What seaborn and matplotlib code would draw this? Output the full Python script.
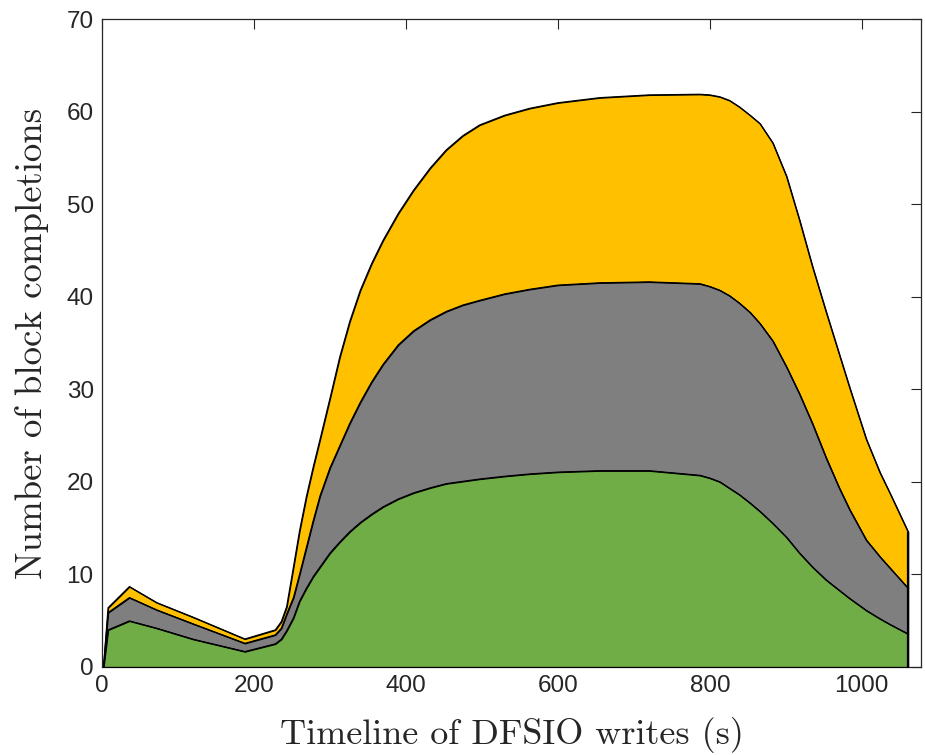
import numpy as np
import pandas as pd
import matplotlib
matplotlib.use("Agg")
import matplotlib.pyplot as plt
import seaborn as sns

# ---- data ----
time_s = [2, 8, 36, 72, 120, 188, 228, 236, 243, 252, 260, 269, 278, 287, 300,
          313, 326, 340, 355, 370, 390, 410, 432, 453, 475, 497, 530, 563, 600,
          655, 720, 787, 800, 813, 826, 839, 853, 866, 883, 901, 918, 935, 953,
          970, 984, 1006, 1024, 1037, 1061]

green_top = [0, 4.0, 4.97, 4.18, 2.99, 1.66, 2.49, 2.99, 3.9, 5.3, 7.1, 8.5,
             9.76, 10.8, 12.3, 13.5, 14.6, 15.6, 16.5, 17.3, 18.15, 18.8, 19.35,
             19.8, 20.05, 20.3, 20.6, 20.85, 21.05, 21.2, 21.2, 20.7, 20.4,
             20.0, 19.3, 18.6, 17.7, 16.8, 15.5, 14.0, 12.3, 10.8, 9.4, 8.3,
             7.4, 6.1, 5.2, 4.6, 3.56]

gray_top = [0, 5.87, 7.49, 6.16, 4.65, 2.55, 3.46, 4.18, 5.7, 7.5, 10.0, 12.9,
            15.8, 18.5, 21.5, 23.9, 26.3, 28.6, 30.8, 32.7, 34.8, 36.3, 37.5,
            38.4, 39.1, 39.6, 40.3, 40.8, 41.25, 41.5, 41.6, 41.4, 41.1, 40.7,
            40.1, 39.3, 38.3, 37.1, 35.2, 32.4, 29.5, 26.3, 22.6, 19.4, 17.0,
            13.7, 11.9, 10.7, 8.5]

yellow_top = [0, 6.4, 8.68, 6.95, 5.37, 3.02, 4.0, 4.9, 6.5, 10.8, 14.7, 18.4,
              21.6, 24.6, 29.0, 33.5, 37.3, 40.7, 43.6, 46.1, 49.0, 51.5, 53.9,
              55.85, 57.4, 58.55, 59.6, 60.35, 60.95, 61.5, 61.8, 61.87, 61.8,
              61.6, 61.2, 60.5, 59.6, 58.7, 56.6, 53.0, 48.3, 43.3, 38.4, 33.9,
              30.2, 24.6, 21.0, 18.8, 14.6]

x_ticks = [0, 200, 400, 600, 800, 1000]
y_ticks = [0, 10, 20, 30, 40, 50, 60, 70]
x_label = "Timeline of DFSIO writes (s)"
y_label = "Number of block completions"

colors = {"green": "#70AD47", "gray": "#7F7F7F", "yellow": "#FFC000"}

# ---- plot ----
sns.set_theme(style="white")
plt.rcParams["font.family"] = ["Liberation Sans", "DejaVu Sans"]

df = pd.DataFrame({"t": time_s, "green": green_top, "gray": gray_top,
                   "yellow": yellow_top})

fig = plt.figure(figsize=(9.25, 7.55), dpi=100)
ax = fig.add_axes([0.1103, 0.1166, 0.9957 - 0.1103, 0.9748 - 0.1166])

zero = np.zeros(len(df))
ax.fill_between(df["t"], df["gray"], df["yellow"], facecolor=colors["yellow"],
                edgecolor="black", linewidth=0.9, zorder=2)
ax.fill_between(df["t"], df["green"], df["gray"], facecolor=colors["gray"],
                edgecolor="black", linewidth=0.9, zorder=3)
ax.fill_between(df["t"], zero, df["green"], facecolor=colors["green"],
                edgecolor="black", linewidth=0.9, zorder=4)
for col in ["green", "gray", "yellow"]:
    sns.lineplot(data=df, x="t", y=col, color="black", linewidth=0.9,
                 ax=ax, zorder=5, legend=False)
ax.vlines(df["t"].iloc[-1], 0, df["yellow"].iloc[-1], color="black",
          linewidth=1.6, zorder=6)

ax.set_xlim(0, 1078)
ax.set_ylim(0, 70)
ax.set_xticks(x_ticks)
ax.set_yticks(y_ticks)
ax.tick_params(axis="both", which="both", direction="in", length=7, width=0.8,
               top=True, right=True, labelsize=17.5, colors="#262626",
               pad=6)
for s in ax.spines.values():
    s.set_visible(True)
    s.set_color("#262626")
    s.set_linewidth(0.9)

ax.set_xlabel(x_label, fontsize=26, family=["cmr10", "Liberation Serif"],
              color="#262626", labelpad=14)
ax.set_ylabel(y_label, fontsize=26.5, family=["cmr10", "Liberation Serif"],
              color="#262626", labelpad=13)

fig.savefig("out.png", dpi=100)
